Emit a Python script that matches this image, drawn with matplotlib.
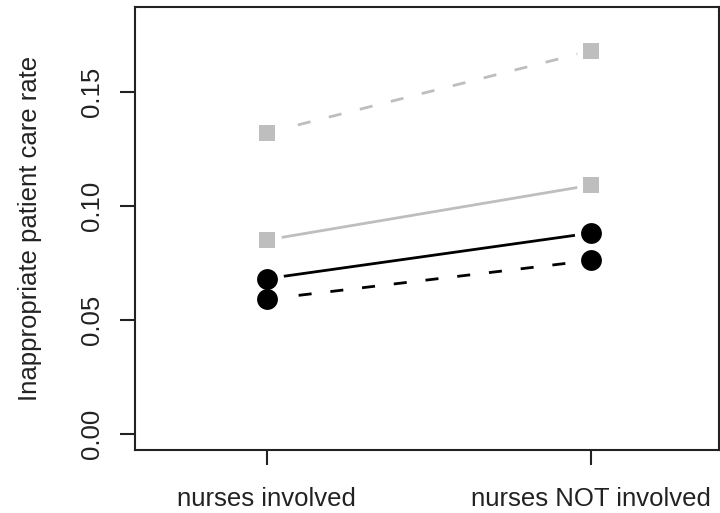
import matplotlib
matplotlib.use("Agg")
import matplotlib.pyplot as plt

plt.rcParams['font.family'] = ['Liberation Sans', 'DejaVu Sans']

groups = ["nurses involved", "nurses NOT involved"]
xpos = [1, 2]

# inappropriate care rate, one row per series
grey_dashed = [0.132, 0.168]
grey_solid = [0.085, 0.109]
black_solid = [0.068, 0.088]
black_dashed = [0.059, 0.076]

yticks = [0.00, 0.05, 0.10, 0.15]
ytick_labels = ["0.00", "0.05", "0.10", "0.15"]

GREY = "#BEBEBE"

series = [
    (grey_dashed, GREY, "s", 12.2, "dash"),
    (grey_solid, GREY, "s", 12.2, "solid"),
    (black_solid, "black", "o", 15, "solid"),
    (black_dashed, "black", "o", 15, "dash"),
]

fig = plt.figure(figsize=(7.2, 5.13), dpi=100)
ax = fig.add_axes([135 / 720, 63 / 513, 584 / 720, 443 / 513])

for vals, col, mk, ms, ls in series:
    line, = ax.plot(xpos, vals, color=col, lw=2, zorder=2,
                    solid_capstyle="butt", dash_capstyle="butt")
    if ls == "dash":
        line.set_dashes((4.7, 6.8))
    # white halo so the line stops short of the point, like type="b"
    ax.plot(xpos, vals, ls="none", marker=mk, ms=ms, mfc="white",
            mec="white", mew=9, zorder=3)
    ax.plot(xpos, vals, ls="none", marker=mk, ms=ms, mfc=col,
            mec=col, mew=0, zorder=4)

ax.set_xlim(0.593, 2.395)
ax.set_ylim(-0.0072, 0.1872)

ax.set_xticks(xpos)
ax.set_xticklabels(groups, fontsize=18.5)
ax.set_yticks(yticks)
ax.set_yticklabels(ytick_labels, fontsize=18.5, rotation=90, va="center")
ax.tick_params(axis="both", direction="out", length=11, width=1.5,
               color="#222222", labelcolor="#222222")
ax.tick_params(axis="y", pad=11)
ax.tick_params(axis="x", pad=16)

for sp in ax.spines.values():
    sp.set_linewidth(1.5)
    sp.set_color("#222222")

ax.set_ylabel("Inappropriate patient care rate", fontsize=18.5,
              color="#222222", labelpad=28)

fig.savefig("out.png", dpi=100)
